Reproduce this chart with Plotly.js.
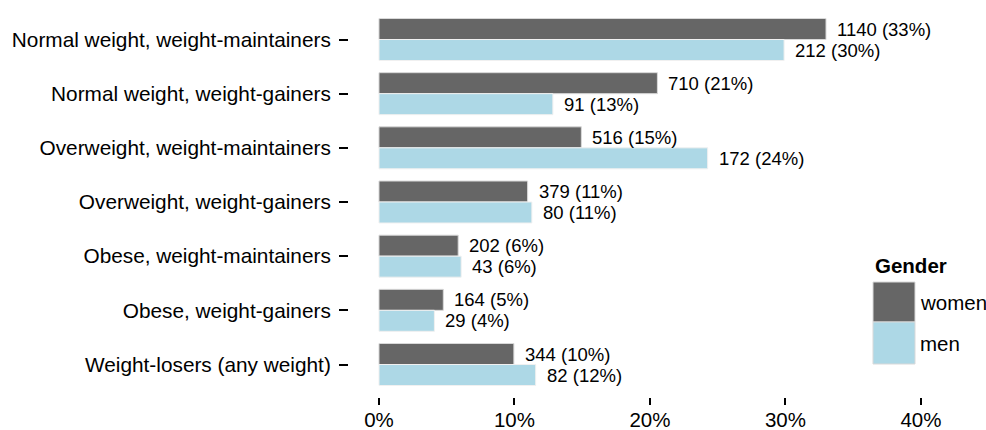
<!DOCTYPE html>
<html>
<head>
<meta charset="utf-8">
<script src="https://cdn.plot.ly/plotly-3.0.1.min.js"></script>
<style>html,body{margin:0;padding:0;background:#fff;}#chart{width:986px;height:430px;}</style>
</head>
<body>
<div id="chart"></div>
<script>
const categories = [
  "Normal weight, weight-maintainers",
  "Normal weight, weight-gainers",
  "Overweight, weight-maintainers",
  "Overweight, weight-gainers",
  "Obese, weight-maintainers",
  "Obese, weight-gainers",
  "Weight-losers (any weight)"
];
const womenCounts = [1140, 710, 516, 379, 202, 164, 344];
const menCounts = [212, 91, 172, 80, 43, 29, 82];
const seriesNames = ["women", "men"];
const tickVals = [0, 0.1, 0.2, 0.3, 0.4];
const tickText = ["0%", "10%", "20%", "30%", "40%"];
const legendTitle = "Gender";

const colWomen = "#666666";
const colMen = "#ADD8E6";
const FONT = "Liberation Sans, Arial, Helvetica, sans-serif";

const W = 986, H = 430;
const M = {l: 349, r: 38, t: 7, b: 33};

function shares(arr) {
  const tot = arr.reduce((a, b) => a + b, 0);
  return arr.map(v => v / tot);
}
const womenShare = shares(womenCounts);
const menShare = shares(menCounts);

const traces = [
  {type: "bar", orientation: "h", name: seriesNames[0], y: categories, x: womenShare,
   marker: {color: colWomen, line: {color: "#d9d9d9", width: 1}}, showlegend: false, hoverinfo: "skip"},
  {type: "bar", orientation: "h", name: seriesNames[1], y: categories, x: menShare,
   marker: {color: colMen, line: {color: "#f0f0f0", width: 1}}, showlegend: false, hoverinfo: "skip"}
];

const annotations = [];
const groups = [[womenCounts, womenShare, 10.5], [menCounts, menShare, -10.5]];
groups.forEach(([cnt, sh, ys]) => {
  categories.forEach((c, i) => {
    annotations.push({
      x: sh[i], y: c, xref: "x", yref: "y", xanchor: "left", yanchor: "middle",
      xshift: 9, yshift: ys, showarrow: false,
      text: cnt[i] + " (" + Math.round(sh[i] * 100) + "%)",
      font: {family: FONT, size: 18.5, color: "#000"}
    });
  });
});

// custom legend (paper coordinates derived from pixel positions)
const pw = W - M.l - M.r, ph = H - M.t - M.b;
const px = x => (x - M.l) / pw;
const py = y => (H - M.b - y) / ph;
const shapes = [
  {type: "rect", xref: "paper", yref: "paper", x0: px(873), x1: px(915), y0: py(322), y1: py(282),
   fillcolor: colWomen, line: {color: "#d9d9d9", width: 1}},
  {type: "rect", xref: "paper", yref: "paper", x0: px(873), x1: px(915), y0: py(364), y1: py(322),
   fillcolor: colMen, line: {color: "#d9d9d9", width: 1}}
];
annotations.push({xref: "paper", yref: "paper", x: px(873), y: py(265), xanchor: "left", yanchor: "middle",
  showarrow: false, text: "<b>" + legendTitle + "</b>", font: {family: FONT, size: 20.5, color: "#000"}});
annotations.push({xref: "paper", yref: "paper", x: px(918), y: py(302), xanchor: "left", yanchor: "middle",
  showarrow: false, text: seriesNames[0], font: {family: FONT, size: 20.5, color: "#000"}});
annotations.push({xref: "paper", yref: "paper", x: px(918), y: py(343), xanchor: "left", yanchor: "middle",
  showarrow: false, text: seriesNames[1], font: {family: FONT, size: 20.5, color: "#000"}});

const layout = {
  width: W, height: H,
  margin: M,
  paper_bgcolor: "#fff", plot_bgcolor: "#fff",
  barmode: "group", bargap: 0.225, bargroupgap: 0,
  font: {family: FONT, color: "#000"},
  xaxis: {range: [-30 / 1355, 0.42], tickvals: tickVals, ticktext: tickText,
    showgrid: false, zeroline: false, showline: false,
    ticks: "outside", ticklen: 7, tickwidth: 2, tickcolor: "#000",
    ticklabelstandoff: -3,
    tickfont: {family: FONT, size: 20.5, color: "#000"}, fixedrange: true},
  yaxis: {type: "category", categoryorder: "array", categoryarray: categories,
    range: [6.6, -0.6], showgrid: false, zeroline: false, showline: false,
    ticks: "outside", ticklen: 9, tickwidth: 2, tickcolor: "#000",
    ticklabelstandoff: 4,
    tickfont: {family: FONT, size: 20.8, color: "#000"}, fixedrange: true},
  shapes: shapes,
  annotations: annotations,
  showlegend: false
};

Plotly.newPlot("chart", traces, layout, {displayModeBar: false, staticPlot: true});
</script>
</body>
</html>
